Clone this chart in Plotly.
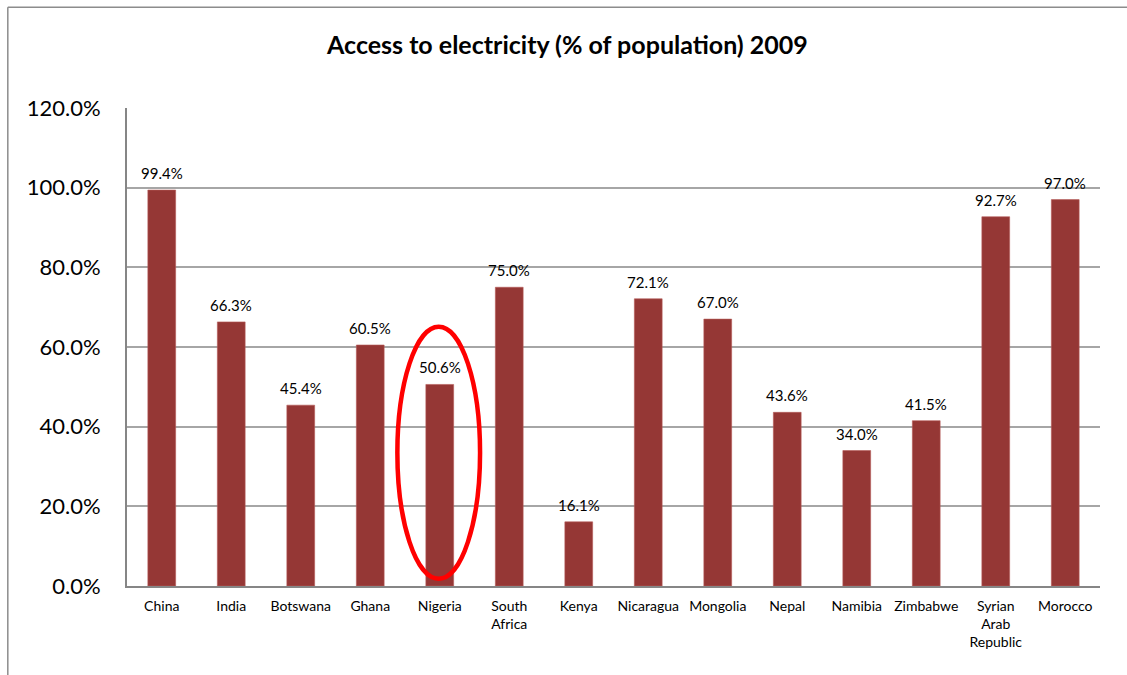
import plotly.graph_objects as go

# Access to electricity, % of population, 2009
countries = ["China", "India", "Botswana", "Ghana", "Nigeria", "South<br>Africa", "Kenya",
             "Nicaragua", "Mongolia", "Nepal", "Namibia", "Zimbabwe",
             "Syrian<br>Arab<br>Republic", "Morocco"]
access_pct = [99.4, 66.3, 45.4, 60.5, 50.6, 75.0, 16.1, 72.1, 67.0, 43.6, 34.0, 41.5, 92.7, 97.0]
y_ticks = [0, 20, 40, 60, 80, 100, 120]
y_tick_labels = ["0.0%", "20.0%", "40.0%", "60.0%", "80.0%", "100.0%", "120.0%"]
highlight = "Nigeria"

FONT = "Lato, Carlito, Calibri, sans-serif"
BAR_COLOR = "#953735"
GRID = "#a6a6a6"
AXIS = "#868686"

fig = go.Figure()
fig.add_trace(go.Bar(
    x=list(range(len(countries))),
    y=access_pct,
    marker=dict(color=BAR_COLOR, line=dict(color="#b65a58", width=0.6)),
    hovertemplate="%{y:.1f}%<extra></extra>",
))

# value labels above each bar
for i, v in enumerate(access_pct):
    fig.add_annotation(x=i, y=v, text=f"{v:.1f}%", showarrow=False,
                       yanchor="bottom", yshift=6,
                       font=dict(family=FONT, size=15, color="#000000"))

# red ellipse drawn around the highlighted country's bar
hi = countries.index(highlight)
fig.add_shape(type="circle", xref="x", yref="y",
              x0=hi - 0.61, x1=hi + 0.58,
              y0=1.8, y1=access_pct[hi] + 14.5,
              line=dict(color="#ff0000", width=4.5))

# outer chart frame (left and top edges)
fig.add_shape(type="line", xref="paper", yref="paper", x0=-0.1225, x1=1.04,
              y0=1.211, y1=1.211, line=dict(color="#8c8c8c", width=1.5))
fig.add_shape(type="line", xref="paper", yref="paper", x0=-0.1225, x1=-0.1225,
              y0=-0.2, y1=1.211, line=dict(color="#8c8c8c", width=1.5))

fig.update_layout(
    width=1127, height=675,
    margin=dict(l=127, r=27, t=108, b=89),
    paper_bgcolor="white", plot_bgcolor="white",
    showlegend=False,
    bargap=0.6,
    title=dict(text="<b>Access to electricity (% of population) 2009</b>",
               x=0.5035, xanchor="center", y=0.933, yanchor="middle",
               font=dict(family=FONT, size=25, color="#000000")),
    font=dict(family=FONT, color="#000000"),
)

fig.update_xaxes(
    tickmode="array", tickvals=list(range(len(countries))), ticktext=countries,
    range=[-0.5, len(countries) - 0.5],
    showline=True, linecolor=AXIS, linewidth=2,
    showgrid=False, ticks="", ticklabelstandoff=6,
    tickfont=dict(family=FONT, size=14, color="#000000"),
)
fig.update_yaxes(
    range=[0, 120], tickmode="array", tickvals=y_ticks, ticktext=y_tick_labels,
    showline=True, linecolor=AXIS, linewidth=2,
    showgrid=True, gridcolor=GRID, gridwidth=1.5,
    zeroline=False, ticks="", ticklabelstandoff=20,
    tickfont=dict(family=FONT, size=22, color="#000000"),
)

fig.write_html("out.html")
